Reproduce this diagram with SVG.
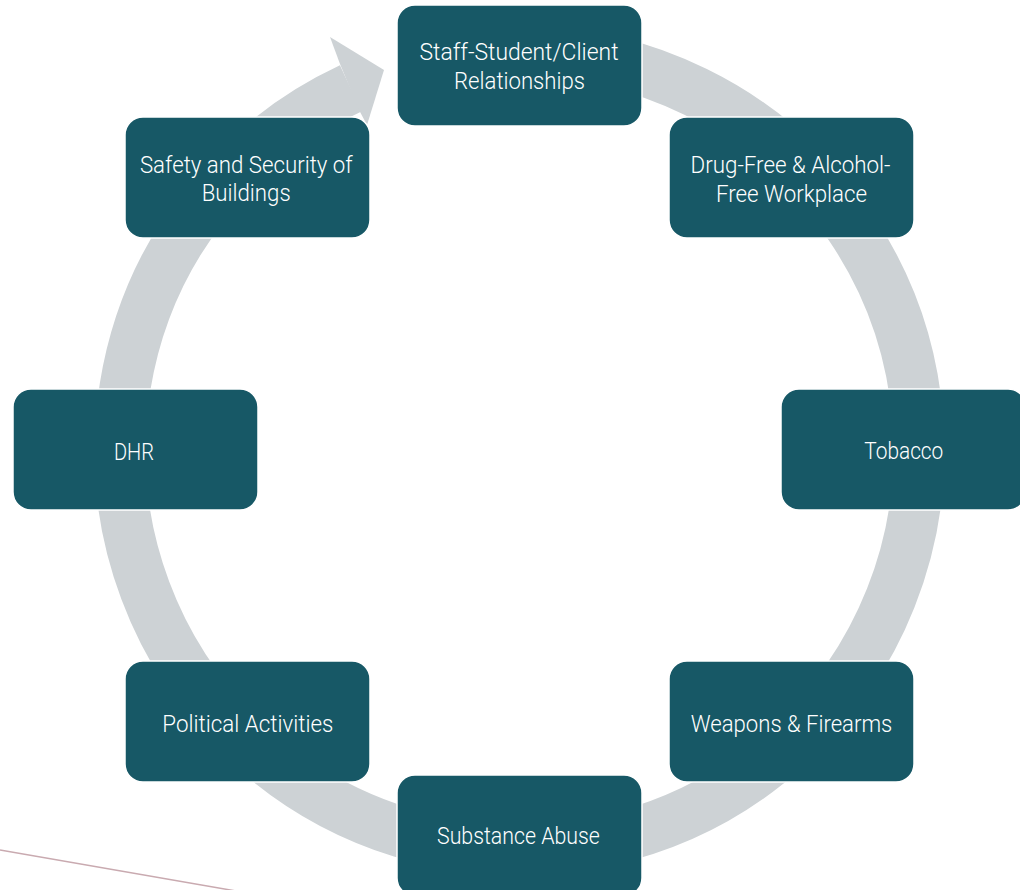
<svg xmlns="http://www.w3.org/2000/svg" width="1020" height="890" viewBox="0 0 1020 890">
  <style>
    .box { fill: #175866; stroke: #ffffff; stroke-width: 1.5; }
    .lbl { fill: #ffffff; font-family: Roboto, "Liberation Sans", sans-serif; font-weight: 300; font-size: 24px; text-anchor: middle; }
    .ring { fill: none; stroke: #cdd2d5; stroke-width: 51; }
  </style>
  <rect width="1020" height="890" fill="#ffffff"/>

  <!-- decorative rule at lower left -->
  <line x1="0" y1="850" x2="236" y2="891" stroke="#c9aab0" stroke-width="1.5"/>

  <!-- circular flow arrow behind the nodes -->
  <g id="connectors">
    <path class="ring" d="M 519.5 51 A 399.5 399.5 0 1 1 350.7 88.4"/>
    <polygon fill="#cdd2d5" points="340,64 330,37 384,70 367,125 359,110"/>
  </g>

  <g id="node-staff">
    <rect class="box" x="397" y="5" width="245" height="121" rx="18"/>
    <text class="lbl" x="519" y="60" textLength="199" lengthAdjust="spacingAndGlyphs">Staff-Student/Client</text>
    <text class="lbl" x="519.5" y="88.5" textLength="131" lengthAdjust="spacingAndGlyphs">Relationships</text>
  </g>
  <g id="node-drugfree">
    <rect class="box" x="669" y="117" width="245" height="121" rx="18"/>
    <text class="lbl" x="790.5" y="173" textLength="200" lengthAdjust="spacingAndGlyphs">Drug-Free &amp; Alcohol-</text>
    <text class="lbl" x="791.5" y="201.5" textLength="151" lengthAdjust="spacingAndGlyphs">Free Workplace</text>
  </g>
  <g id="node-tobacco">
    <rect class="box" x="781" y="389" width="245" height="121" rx="18"/>
    <text class="lbl" x="903.8" y="459.3" textLength="79" lengthAdjust="spacingAndGlyphs">Tobacco</text>
  </g>
  <g id="node-weapons">
    <rect class="box" x="669" y="661" width="245" height="121" rx="18"/>
    <text class="lbl" x="791.5" y="731.7" textLength="201.5" lengthAdjust="spacingAndGlyphs">Weapons &amp; Firearms</text>
  </g>
  <g id="node-substance">
    <rect class="box" x="397" y="775" width="245" height="121" rx="18"/>
    <text class="lbl" x="518.4" y="844.3" textLength="162.7" lengthAdjust="spacingAndGlyphs">Substance Abuse</text>
  </g>
  <g id="node-political">
    <rect class="box" x="125" y="661" width="245" height="121" rx="18"/>
    <text class="lbl" x="247.8" y="731.7" textLength="171" lengthAdjust="spacingAndGlyphs">Political Activities</text>
  </g>
  <g id="node-dhr">
    <rect class="box" x="13" y="389" width="245" height="121" rx="18"/>
    <text class="lbl" x="134" y="460" textLength="40" lengthAdjust="spacingAndGlyphs">DHR</text>
  </g>
  <g id="node-safety">
    <rect class="box" x="125" y="117" width="245" height="121" rx="18"/>
    <text class="lbl" x="246.3" y="173.3" textLength="212.7" lengthAdjust="spacingAndGlyphs">Safety and Security of</text>
    <text class="lbl" x="246.2" y="200.7" textLength="89" lengthAdjust="spacingAndGlyphs">Buildings</text>
  </g>
</svg>
